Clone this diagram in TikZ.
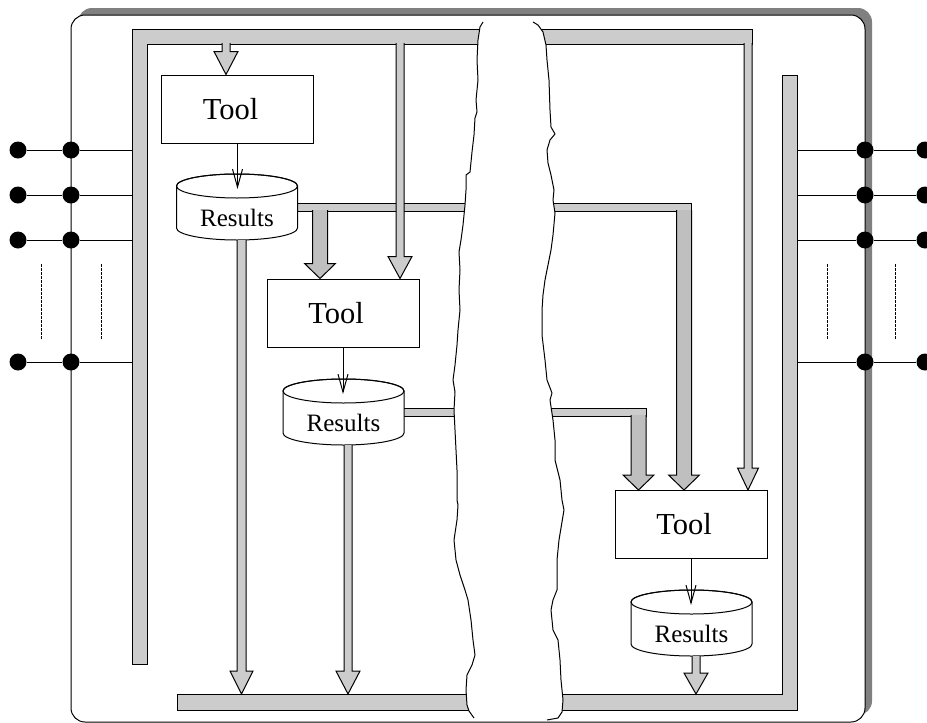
\documentclass[tikz,border=0pt]{standalone}
\usepackage{fontspec}
\setmainfont{Liberation Serif}
\usetikzlibrary{arrows.meta,calc}
\definecolor{busgray}{HTML}{CCCCCC}
\definecolor{thickgray}{HTML}{BFBFBF}
\definecolor{shadowgray}{HTML}{808080}
\tikzset{
 toolbox/.style={draw, fill=white, line width=1pt, minimum width=152pt, minimum height=68pt, inner sep=0pt, font=\fontsize{30.5}{32}\selectfont},
 dbtext/.style={inner sep=0pt, font=\fontsize{25}{27}\selectfont},
 bigdot/.style={circle, fill=black, inner sep=0pt, minimum size=17pt},
 wire/.style={line width=1pt},
 bus/.style={fill=busgray, draw=black, line width=1pt},
 flow/.style={line width=1pt, -{Straight Barb[length=18pt,width=10pt,line width=1pt]}},
 gapline/.style={line width=1pt, line join=round},
 elide/.style={line width=0.9pt, dash pattern=on 3pt off 1pt},
}
% block arrow: start coord (gives y), tip coord, shaft half width, head half width, head length, fill
\newcommand\blockarr[6]{%
 \filldraw[fill=#6, draw=black, line width=1pt] let \p1=(#1), \p2=(#2) in
   (\x2-#3pt,\y1) -- (\x2-#3pt,\y2+#5pt) -- (\x2-#4pt,\y2+#5pt) -- (\x2,\y2) --
   (\x2+#4pt,\y2+#5pt) -- (\x2+#3pt,\y2+#5pt) -- (\x2+#3pt,\y1);
}
% results cylinder: name, cx, cy
\newcommand\resultsdb[3]{%
 \filldraw[fill=white, line width=1pt] ({#2-60.5},{#3-21}) -- ({#2-60.5},{#3+21})
   arc[start angle=180,end angle=360,x radius=60.5pt,y radius=12pt] -- ({#2+60.5},{#3-21})
   arc[start angle=0,end angle=180,x radius=60.5pt,y radius=12pt] -- cycle;
 \draw[line width=1pt] (#2,{#3-21}) ellipse[x radius=60.5pt,y radius=12pt];
 \node[dbtext] (#1) at (#2,{#3+11}) {Results};
 \coordinate (#1-top) at (#2,{#3-18});
 \coordinate (#1-bot) at ({#2+4.5},{#3+33});
}
\begin{document}
\begin{tikzpicture}[x=1pt,y=-1pt]
\useasboundingbox (0,0) rectangle (927,723);
% outer frame with shadow
\fill[shadowgray, rounded corners=14pt] (78,8) rectangle (872,715);
\draw[fill=white, rounded corners=14pt, line width=1pt] (71,15) rectangle (865,722);

% wires and pins
\foreach \i/\y in {1/150,2/195,3/240,4/362} {
  \node[bigdot] (lo\i) at (18,\y) {};
  \node[bigdot] (li\i) at (71,\y) {};
  \coordinate (lb\i) at (132,\y);
  \draw[wire] (lo\i) -- (li\i) -- (lb\i);
  \node[bigdot] (ro\i) at (925,\y) {};
  \node[bigdot] (ri\i) at (865,\y) {};
  \coordinate (rb\i) at (797,\y);
  \draw[wire] (rb\i) -- (ri\i) -- (ro\i);
}
\draw[elide] (41,264) -- (41,339);
\draw[elide] (101,264) -- (101,339);
\draw[elide] (827,264) -- (827,339);
\draw[elide] (895,264) -- (895,339);

% buses
\draw[bus] (132,29) -- (490,29) -- (490,44) -- (147,44) -- (147,664) -- (132,664) -- cycle;
\draw[bus] (525,29) rectangle (752,44);
\draw[bus] (177,694) rectangle (500,710);
\draw[bus] (530,694) -- (782,694) -- (782,75) -- (797,75) -- (797,710) -- (530,710) -- cycle;
\draw[bus] (290,203) rectangle (490,211);
\draw[bus] (520,203) rectangle (691.5,211);
\draw[bus] (395,408) rectangle (490,416);
\draw[bus] (520,408) rectangle (646,416);

% tools and results
\node[toolbox] (t1) at (237.5,109) {Tool\kern14pt};
\node[toolbox] (t2) at (343,313) {Tool\kern14pt};
\node[toolbox] (t3) at (691,524.5) {Tool\kern14pt};
\resultsdb{r1}{237}{207}
\resultsdb{r2}{343.5}{412}
\resultsdb{r3}{691.5}{623}

% block arrows
\coordinate (a1s) at (226,43);
\coordinate (a2s) at (400,43);
\coordinate (a3s) at (748,43);
\coordinate (b1s) at (320,210);
\coordinate (b2s) at (684,210);
\coordinate (b3s) at (638.5,415);
\coordinate (c1t) at (241.5,694);
\coordinate (c2t) at (348,694);
\coordinate (c3t) at (696,694);
\blockarr{a1s}{[xshift=-11.5pt]t1.north}{4}{12}{23}{busgray}
\blockarr{a2s}{[xshift=57pt]t2.north}{4}{12}{22}{busgray}
\blockarr{a3s}{[xshift=57pt]t3.north}{4}{10.5}{22}{busgray}
\blockarr{b1s}{[xshift=-23pt]t2.north}{7.5}{15.5}{15}{thickgray}
\blockarr{b2s}{[xshift=-7pt]t3.north}{7.5}{15.5}{15}{thickgray}
\blockarr{b3s}{[xshift=-52.5pt]t3.north}{7.5}{15.5}{15}{thickgray}
\blockarr{r1-bot}{c1t}{4.5}{11.5}{23}{busgray}
\blockarr{r2-bot}{c2t}{4}{12}{23}{busgray}
\blockarr{r3-bot}{c3t}{4}{12}{21}{busgray}

% tool to results
\draw[flow] (t1.south) -- (t1.south |- r1-top);
\draw[flow] (t2.south) -- (t2.south |- r2-top);
\draw[flow] (t3.south) -- (t3.south |- r3-top);

% torn gap
\fill[white] (483,22) -- (480,27) -- (478,40) -- (477,60) -- (478,80) -- (476,100) -- (477,112) -- (475,118) -- (474,135) -- (472,152) -- (470,172) -- (466,175) -- (466,190) -- (465,205) -- (463,225) -- (461,240) -- (459,252) -- (460,270) -- (459,290) -- (460,310) -- (458,330) -- (457,345) -- (455,365) -- (453,380) -- (455,392) -- (454,410) -- (455,430) -- (456,450) -- (457,470) -- (457,500) -- (458,505) -- (457,520) -- (454,540) -- (456,560) -- (460,575) -- (465,590) -- (468,600) -- (471,620) -- (473,640) -- (475,655) -- (472,665) -- (467,675) -- (466,690) -- (467,705) -- (469,711) -- (474,718)
 -- (547,720) -- (558,718) -- (562,712) -- (563,700) -- (561,680) -- (560,660) -- (558,640) -- (553,630) -- (551,610) -- (553,600) -- (557,590) -- (557,560) -- (559,540) -- (564,510) -- (562,500) -- (560,480) -- (555,460) -- (555,440) -- (553,420) -- (550,400) -- (552,393) -- (547,380) -- (545,360) -- (542,335) -- (542,310) -- (543,295) -- (545,280) -- (548,265) -- (551,250) -- (553,235) -- (555,213) -- (553,200) -- (554,190) -- (551,175) -- (548,163) -- (547,150) -- (550,140) -- (555,134) -- (551,127) -- (550,110) -- (549,80) -- (547,60) -- (546,45) -- (543,32) -- (538,25) -- (533,22) -- cycle;
\draw[gapline] (483,22) -- (480,27) -- (478,40) -- (477,60) -- (478,80) -- (476,100) -- (477,112) -- (475,118) -- (474,135) -- (472,152) -- (470,172) -- (466,175) -- (466,190) -- (465,205) -- (463,225) -- (461,240) -- (459,252) -- (460,270) -- (459,290) -- (460,310) -- (458,330) -- (457,345) -- (455,365) -- (453,380) -- (455,392) -- (454,410) -- (455,430) -- (456,450) -- (457,470) -- (457,500) -- (458,505) -- (457,520) -- (454,540) -- (456,560) -- (460,575) -- (465,590) -- (468,600) -- (471,620) -- (473,640) -- (475,655) -- (472,665) -- (467,675) -- (466,690) -- (467,705) -- (469,711) -- (474,718);
\draw[gapline] (533,22) -- (538,25) -- (543,32) -- (546,45) -- (547,60) -- (549,80) -- (550,110) -- (551,127) -- (555,134) -- (550,140) -- (547,150) -- (548,163) -- (551,175) -- (554,190) -- (553,200) -- (555,213) -- (553,235) -- (551,250) -- (548,265) -- (545,280) -- (543,295) -- (542,310) -- (542,335) -- (545,360) -- (547,380) -- (552,393) -- (550,400) -- (553,420) -- (555,440) -- (555,460) -- (560,480) -- (562,500) -- (564,510) -- (559,540) -- (557,560) -- (557,590) -- (553,600) -- (551,610) -- (553,630) -- (558,640) -- (560,660) -- (561,680) -- (563,700) -- (562,712) -- (558,718) -- (547,720);
\end{tikzpicture}
\end{document}
